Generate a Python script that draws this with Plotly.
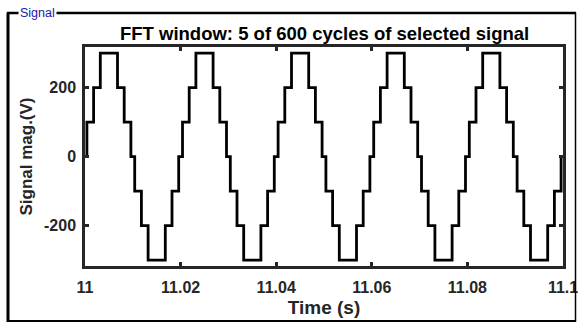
import plotly.graph_objects as go

# Step transition times (s) and the level reached at each step
step_times = [
    11.0000,
    11.0004, 11.0018, 11.0032, 11.0068, 11.0082, 11.0096,
    11.0104, 11.0118, 11.0132, 11.0168, 11.0182, 11.0196,
    11.0204, 11.0218, 11.0232, 11.0268, 11.0282, 11.0296,
    11.0304, 11.0318, 11.0332, 11.0368, 11.0382, 11.0396,
    11.0404, 11.0418, 11.0432, 11.0468, 11.0482, 11.0496,
    11.0504, 11.0518, 11.0532, 11.0568, 11.0582, 11.0596,
    11.0604, 11.0618, 11.0632, 11.0668, 11.0682, 11.0696,
    11.0704, 11.0718, 11.0732, 11.0768, 11.0782, 11.0796,
    11.0804, 11.0818, 11.0832, 11.0868, 11.0882, 11.0896,
    11.0904, 11.0918, 11.0932, 11.0968, 11.0982, 11.0996,
    11.1000,
]
step_levels = [
    0,
    100, 200, 300, 200, 100, 0,
    -100, -200, -300, -200, -100, 0,
    100, 200, 300, 200, 100, 0,
    -100, -200, -300, -200, -100, 0,
    100, 200, 300, 200, 100, 0,
    -100, -200, -300, -200, -100, 0,
    100, 200, 300, 200, 100, 0,
    -100, -200, -300, -200, -100, 0,
    100, 200, 300, 200, 100, 0,
    -100, -200, -300, -200, -100, 0,
    0,
]
x_ticks = [11, 11.02, 11.04, 11.06, 11.08, 11.1]
x_tick_labels = ["11", "11.02", "11.04", "11.06", "11.08", "11.1"]
y_ticks = [-200, 0, 200]
y_tick_labels = ["-200", "0", "200"]

W, H = 578, 322
L, R, T, B = 85, 15, 47, 56
PW, PH = W - L - R, H - T - B
FONT = "Liberation Sans, Arial, Helvetica, sans-serif"
AX = "#262626"


def px(xp):
    return (xp - L) / PW


def py(yp):
    return (H - B - yp) / PH


fig = go.Figure()
fig.add_trace(go.Scatter(
    x=step_times, y=step_levels, mode="lines",
    line=dict(color="black", width=2.8, shape="hv"),
    hoverinfo="skip", showlegend=False,
))

axis_common = dict(
    showgrid=False, zeroline=False, showline=True, linecolor=AX, linewidth=2.5,
    mirror="ticks", ticks="inside", ticklen=4, tickwidth=2.5, tickcolor=AX,
    tickfont=dict(family=FONT, size=16, color="#262626", weight="bold"),
    automargin=False, ticklabeloverflow="allow",
)

fig.update_xaxes(
    range=[11, 11.1], tickvals=x_ticks, ticktext=x_tick_labels, ticklabelstandoff=5,
    title=dict(text="<b>Time (s)</b>", font=dict(family=FONT, size=19, color="#262626"), standoff=6),
    **axis_common,
)
fig.update_yaxes(
    range=[-317, 318], tickvals=y_ticks, ticktext=y_tick_labels, ticklabelstandoff=3,
    title=dict(text="<b>Signal mag.(V)</b>", font=dict(family=FONT, size=17, color="#262626"), standoff=8),
    **axis_common,
)

shapes = [
    # outer panel frame
    dict(type="line", xref="paper", yref="paper", x0=px(8), x1=px(8), y0=py(12.5), y1=py(322), line=dict(color="black", width=3)),
    dict(type="line", xref="paper", yref="paper", x0=px(7), x1=px(576), y0=py(13), y1=py(13), line=dict(color="black", width=2.5)),
    dict(type="line", xref="paper", yref="paper", x0=px(575.5), x1=px(575.5), y0=py(12.5), y1=py(322), line=dict(color="black", width=1.5)),
    dict(type="line", xref="paper", yref="paper", x0=px(7), x1=px(576), y0=py(321), y1=py(321), line=dict(color="black", width=2)),
]

annotations = [
    dict(text="Signal", xref="paper", yref="paper", x=px(18), y=py(12.5), xanchor="left", yanchor="middle",
         showarrow=False, bgcolor="white", borderpad=1,
         font=dict(family=FONT, size=12.5, color="#1818b0")),
    dict(text="<b>FFT window: 5 of 600 cycles of selected signal</b>", xref="paper", yref="paper",
         x=0.5, y=py(33.5), xanchor="center", yanchor="middle", showarrow=False,
         font=dict(family=FONT, size=18.5, color="black")),
]

fig.update_layout(
    width=W, height=H, margin=dict(l=L, r=R, t=T, b=B),
    paper_bgcolor="white", plot_bgcolor="white",
    shapes=shapes, annotations=annotations,
    font=dict(family=FONT),
)

fig.write_html("out.html")
